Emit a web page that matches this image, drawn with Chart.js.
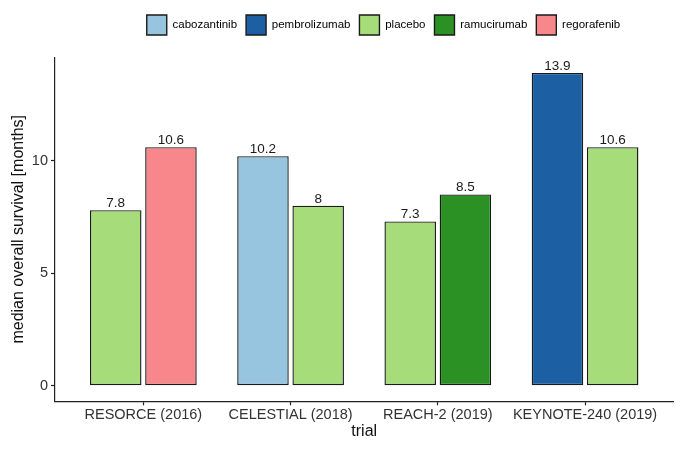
<!DOCTYPE html>
<html>
<head>
<meta charset="utf-8">
<script src="https://cdn.jsdelivr.net/npm/chart.js@4"></script>
<style>
  html,body{margin:0;padding:0;background:#fff}
  #wrap{width:687px;height:450px}
</style>
</head>
<body>
<div id="wrap"><canvas id="chart" width="687" height="450"></canvas></div>
<script>
// median OS per trial, two bars per trial (left / right, alphabetical by drug)
const trials = ['RESORCE (2016)', 'CELESTIAL (2018)', 'REACH-2 (2019)', 'KEYNOTE-240 (2019)'];
const drugs = ['cabozantinib', 'pembrolizumab', 'placebo', 'ramucirumab', 'regorafenib'];
const drugColors = ['#97c4df', '#1c5fa3', '#a6dc79', '#2c9124', '#f7878b'];
const leftDrug = ['placebo', 'cabozantinib', 'placebo', 'pembrolizumab'];
const leftValues = [7.8, 10.2, 7.3, 13.9];
const rightDrug = ['regorafenib', 'placebo', 'ramucirumab', 'placebo'];
const rightValues = [10.6, 8, 8.5, 10.6];
const yTicks = [0, 5, 10];

const FONT = '"Liberation Sans", Arial, sans-serif';
function colorOf(d){ return drugColors[drugs.indexOf(d)]; }

// ggplot-like expansion
const yMax = Math.max(...leftValues, ...rightValues);
const yPad = yMax * 0.05;

const barLabels = {
  id: 'barLabels',
  afterDatasetsDraw(chart){
    const ctx = chart.ctx;
    ctx.save();
    ctx.font = '13.5px ' + FONT;
    ctx.fillStyle = '#1a1a1a';
    ctx.textAlign = 'center';
    ctx.textBaseline = 'alphabetic';
    chart.data.datasets.forEach((ds, di) => {
      chart.getDatasetMeta(di).data.forEach((bar, i) => {
        ctx.fillText(String(ds.data[i].y), bar.x, bar.y - 3);
      });
    });
    ctx.restore();
  }
};

const legendFix = {
  id: 'legendFix',
  beforeInit(chart){
    const lg = chart.legend;
    const fit = lg.fit;
    lg.fit = function(){ fit.call(this); this.height = 57.3; };
  },
  afterUpdate(chart){
    const lg = chart.legend;
    const hb = lg.legendHitBoxes;
    if(!hb || !hb.length) return;
    const last = hb[hb.length - 1];
    const dx = 383.5 - (hb[0].left + last.left + last.width) / 2;
    lg.left += dx; lg.right += dx;
    lg.top += 6; lg.bottom += 6;
    lg.adjustHitBoxes();
  }
};

const axisCommon = {
  offset: false,
  border: {display: true, color: '#222', width: 1.2},
  grid: {display: true, offset: false, drawOnChartArea: false, drawTicks: true, tickLength: 4, tickColor: '#222', tickWidth: 1.2}
};

new Chart(document.getElementById('chart').getContext('2d'), {
  type: 'bar',
  data: {
    datasets: [
      {
        label: 'left',
        data: leftValues.map((v, i) => ({x: i + 1, y: v})),
        backgroundColor: leftDrug.map(colorOf),
        borderColor: '#1a1a1a',
        borderWidth: 1.4,
        borderSkipped: false
      },
      {
        label: 'right',
        data: rightValues.map((v, i) => ({x: i + 1, y: v})),
        backgroundColor: rightDrug.map(colorOf),
        borderColor: '#1a1a1a',
        borderWidth: 1.4,
        borderSkipped: false
      }
    ]
  },
  options: {
    responsive: false,
    animation: false,
    devicePixelRatio: 1,
    categoryPercentage: 0.75,
    barPercentage: 0.9333,
    layout: {padding: {top: 0, left: 0, right: 13.6, bottom: 0}},
    plugins: {
      legend: {
        display: true,
        position: 'top',
        onClick: null,
        labels: {
          boxWidth: 20,
          boxHeight: 20,
          padding: 9,
          color: '#222',
          font: {family: FONT, size: 11.5},
          generateLabels: () => drugs.map((d, i) => ({
            text: d, fillStyle: drugColors[i], strokeStyle: '#1a1a1a', lineWidth: 1.4, hidden: false, datasetIndex: 0
          }))
        }
      },
      tooltip: {enabled: false}
    },
    scales: {
      x: {
        type: 'linear',
        min: 0.4,
        max: trials.length + 0.6,
        bounds: 'data',
        ...axisCommon,
        afterBuildTicks: s => { s.ticks = trials.map((t, i) => ({value: i + 1})); },
        afterFit: s => { s.height = 48.7; },
        ticks: {
          autoSkip: false, maxRotation: 0, padding: 1,
          color: '#333',
          font: {family: FONT, size: 14.5},
          callback: v => trials[Math.round(v) - 1]
        },
        title: {display: true, text: 'trial', color: '#111', font: {family: FONT, size: 16}, padding: {top: 0, bottom: 9}}
      },
      y: {
        type: 'linear',
        min: -yPad,
        max: yMax + yPad,
        bounds: 'data',
        ...axisCommon,
        afterBuildTicks: s => { s.ticks = yTicks.map(v => ({value: v})); },
        afterFit: s => { s.width = 55; },
        ticks: {
          padding: 3,
          color: '#333',
          font: {family: FONT, size: 14.5},
          callback: v => String(v)
        },
        title: {display: true, text: 'median overall survival [months]', color: '#111', font: {family: FONT, size: 16}, padding: {top: 9, bottom: 0}}
      }
    }
  },
  plugins: [legendFix, barLabels]
});
</script>
</body>
</html>
